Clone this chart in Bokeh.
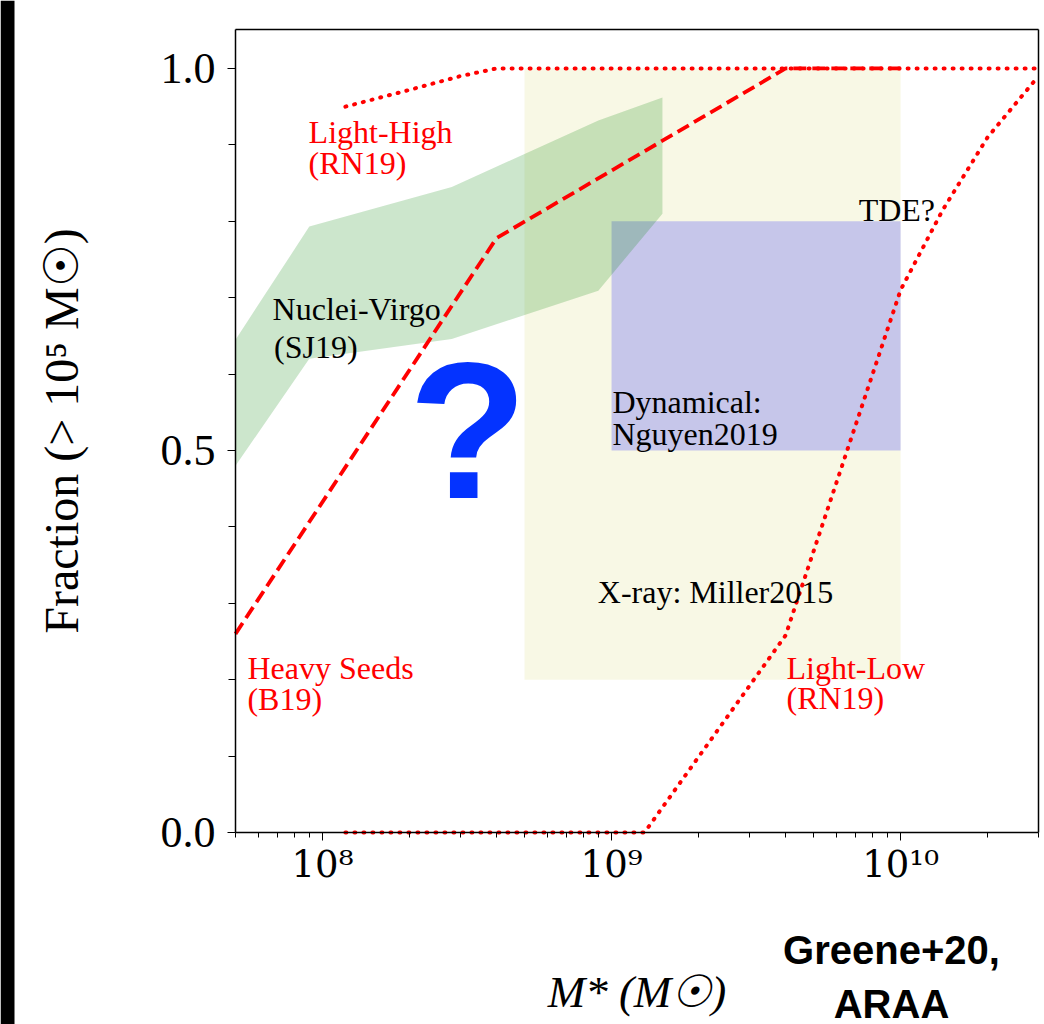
import math
from bokeh.plotting import figure
from bokeh.models import (Range1d, FixedTicker, NumeralTickFormatter,
                          LogAxis, LinearAxis, BoxAnnotation, ColumnDataSource)
from bokeh.core.properties import value
from bokeh.embed import file_html
from bokeh.resources import INLINE

# ---------------- data ----------------
# Heavy seeds (B19), dashed
heavy_x = [5e7, 4e8, 4e9, 1e10]
heavy_y = [0.26, 0.778, 1.0, 1.0]
# Light-High (RN19), dotted
lhigh_x = [1.2e8, 2e8, 3e8, 4e8, 3e10]
lhigh_y = [0.95, 0.972, 0.99, 1.0, 1.0]
# Light-Low (RN19), dotted
llow_x = [1.2e8, 1.3e9, 4e9, 1e10, 1.4e10, 2e10, 3e10]
llow_y = [0.0, 0.0, 0.258, 0.71, 0.815, 0.91, 0.99]
# Nuclei-Virgo (SJ19) band
virgo_x = [5e7, 9e7, 2.8e8, 9e8, 1.5e9]
virgo_hi = [0.645, 0.793, 0.845, 0.932, 0.962]
virgo_lo = [0.48, 0.62, 0.646, 0.709, 0.81]
# X-ray: Miller2015 box
xray_left, xray_right, xray_bottom, xray_top = 5e8, 1e10, 0.2, 1.0
# Dynamical: Nguyen2019 box
dyn_left, dyn_right, dyn_bottom, dyn_top = 1e9, 1e10, 0.5, 0.8

# axis limits and ticks
X_LO, X_HI = 5e7, 3e10
Y_LO, Y_HI = 0.0, 1.051
x_ticks = [1e8, 1e9, 1e10]
x_tick_labels = ["10\u2078", "10\u2079", "10\u00b9\u2070"]
x_minor = [m * 10 ** e for e in (7, 8, 9, 10) for m in range(2, 10)
           if X_LO <= m * 10 ** e <= X_HI]
y_ticks = [0.0, 0.5, 1.0]
y_minor = [0.1, 0.2, 0.3, 0.4, 0.6, 0.7, 0.8, 0.9]

# ---------------- layout ----------------
W, H = 1044, 1024
PAD_L, PAD_R, PAD_T, PAD_B = 235, 6, 29, 192      # axes box inside the canvas
box_w, box_h = W - PAD_L - PAD_R, H - PAD_T - PAD_B
dpp = (math.log10(X_HI) - math.log10(X_LO)) / box_w
upp = (Y_HI - Y_LO) / box_h
PPU = 1.0 / upp
x_start = 10 ** (math.log10(X_LO) - PAD_L * dpp)
x_end = 10 ** (math.log10(X_HI) + PAD_R * dpp)
y_start = Y_LO - PAD_B * upp
y_end = Y_HI + PAD_T * upp


def px_to_x(px):
    return 10 ** (math.log10(x_start) + px * dpp)


def py_to_y(py):
    return y_end - py * upp


SERIF = "Liberation Serif"
SANS = "Liberation Sans"
RED = "#ff0000"

p = figure(width=W, height=H, x_axis_type="log",
           x_range=Range1d(x_start, x_end), y_range=Range1d(y_start, y_end),
           output_backend="svg", toolbar_location=None,
           min_border_left=0, min_border_right=0, min_border_top=0, min_border_bottom=0)
p.title.visible = False
p.grid.visible = False
p.outline_line_color = None
p.background_fill_color = "white"
p.border_fill_color = "white"

# regions
p.quad(left=[xray_left], right=[xray_right], bottom=[xray_bottom], top=[xray_top],
       fill_color="#bfbf00", fill_alpha=0.1, line_color=None)
p.quad(left=[dyn_left], right=[dyn_right], bottom=[dyn_bottom], top=[dyn_top],
       fill_color="blue", fill_alpha=0.2, line_color=None)
p.patch(virgo_x + virgo_x[::-1], virgo_hi + virgo_lo[::-1],
        fill_color="green", fill_alpha=0.2, line_color=None)

# model lines
p.line(heavy_x, heavy_y, line_color=RED, line_width=3.8, line_dash="13 6")
p.line(lhigh_x, lhigh_y, line_color=RED, line_width=4, line_dash="1 8", line_cap="round")
p.line(llow_x, llow_y, line_color=RED, line_width=4, line_dash="1 8", line_cap="round")

# axes (placed at the box edges)
xa = p.xaxis[0]
xa.fixed_location = Y_LO
xa.bounds = (X_LO, X_HI)
xa.ticker = FixedTicker(ticks=x_ticks, minor_ticks=x_minor)
xa.major_label_overrides = dict(zip(x_ticks, x_tick_labels))
xa.major_label_text_font = "DejaVu Serif"
xa.major_label_text_font_size = "37px"
xa.axis_label = "M* (M\u2609)"
xa.axis_label_text_font_style = "italic"
xa.axis_label_text_font_size = "45px"
xa.axis_label_standoff = 78
xa.major_tick_out = 8
xa.minor_tick_out = 5
xa.major_label_standoff = 2

ya = p.yaxis[0]
ya.fixed_location = X_LO
ya.bounds = (Y_LO, Y_HI)
ya.ticker = FixedTicker(ticks=y_ticks, minor_ticks=y_minor)
ya.formatter = NumeralTickFormatter(format="0.0")
ya.major_label_text_font = SERIF
ya.major_label_text_font_size = "44px"
ya.axis_label = "Fraction (> 10\u2075 M\u2609)"
ya.axis_label_text_font_style = "normal"
ya.axis_label_text_font_size = "48px"
ya.axis_label_standoff = 70
ya.major_tick_out = 8
ya.minor_tick_out = 7
ya.major_label_standoff = 12

top_ax = LogAxis(fixed_location=Y_HI, bounds=(X_LO, X_HI),
                 ticker=FixedTicker(ticks=[1e8], minor_ticks=[]))
right_ax = LinearAxis(fixed_location=X_HI, bounds=(Y_LO, Y_HI),
                      ticker=FixedTicker(ticks=[0.5], minor_ticks=[]))
p.add_layout(top_ax, "above")
p.add_layout(right_ax, "right")

for ax in (xa, ya, top_ax, right_ax):
    ax.major_tick_in = 0
    ax.minor_tick_in = 0
    ax.axis_line_color = "black"
    ax.axis_line_width = 1.5
    ax.major_tick_line_color = "black"
    ax.minor_tick_line_color = "black"
    ax.major_label_text_color = "black"
    ax.axis_label_text_font = SERIF
    ax.axis_label_text_color = "black"
for ax in (top_ax, right_ax):
    ax.major_tick_line_color = None
    ax.minor_tick_line_color = None
    ax.major_label_text_alpha = 0

# annotations: (text, x, baseline y, colour)
BASE_SHIFT = 0.35   # anchor-to-baseline offset, in em
NOTE_SIZE = 32
note_text = ["Light-High", "(RN19)", "Nuclei-Virgo", "(SJ19)", "Heavy Seeds", "(B19)",
             "Light-Low", "(RN19)", "TDE?", "Dynamical:", "Nguyen2019", "X-ray: Miller2015"]
note_x = [8.95e7, 8.95e7, 6.72e7, 6.8e7, 5.5e7, 5.5e7,
          4.03e9, 4.03e9, 7.16e9, 1.007e9, 1.007e9, 8.96e8]
note_base = [0.902, 0.862, 0.671, 0.621, 0.2005, 0.160,
             0.2005, 0.161, 0.80, 0.549, 0.507, 0.300]
note_color = [RED, RED, "black", "black", RED, RED,
              RED, RED, "black", "black", "black", "black"]
notes_src = ColumnDataSource(dict(
    x=note_x, y=[b + BASE_SHIFT * NOTE_SIZE / PPU for b in note_base],
    text=note_text, color=note_color))
p.text(x="x", y="y", text="text", source=notes_src, text_color="color",
       text_font=value(SERIF), text_font_size=f"{NOTE_SIZE}px",
       text_align="left", text_baseline="alphabetic")

Q_SIZE = 195
p.text(x=[3.18e8], y=[0.438 + BASE_SHIFT * Q_SIZE / PPU], text=["?"],
       text_color="#0433ff", text_font=value(SANS), text_font_style="bold",
       text_font_size=f"{Q_SIZE}px", text_align="center", text_baseline="alphabetic")

CRED_SIZE = 40
cred_text = ["Greene+20,", "ARAA"]
cred_base_px = [963, 1017]
p.text(x=[px_to_x(891)] * 2,
       y=[py_to_y(b) + BASE_SHIFT * CRED_SIZE / PPU for b in cred_base_px],
       text=cred_text, text_color="black", text_font=value(SANS),
       text_font_style="bold", text_font_size=f"{CRED_SIZE}px",
       text_align="center", text_baseline="alphabetic")

# screenshot frame strip on the left edge
p.add_layout(BoxAnnotation(left=0, right=14, top=0, bottom=H,
                           left_units="screen", right_units="screen",
                           bottom_units="screen", top_units="screen",
                           fill_color="black", fill_alpha=1, line_color=None))

open("out.html", "w").write(file_html(p, INLINE))
